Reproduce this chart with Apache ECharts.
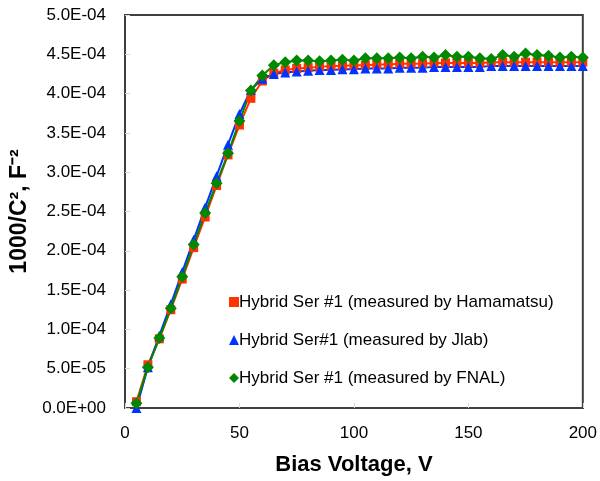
<!DOCTYPE html>
<html>
<head>
<meta charset="utf-8">
<script src="https://cdn.jsdelivr.net/npm/echarts@6/dist/echarts.min.js"></script>
<style>
html,body{margin:0;padding:0;background:#fff;}
#chart{width:600px;height:481px;}
</style>
</head>
<body>
<div id="chart"></div>
<script>
// Bias voltage (V)
const voltages = [5,10,15,20,25,30,35,40,45,50,55,60,65,70,75,80,85,90,95,100,
  105,110,115,120,125,130,135,140,145,150,155,160,165,170,175,180,185,190,195,200];
// 1000/C^2 in units of 1e-4 F^-2
const hamamatsu = [0.08,0.55,0.88,1.25,1.64,2.04,2.43,2.83,3.22,3.60,3.94,4.16,4.26,4.30,4.32,4.33,4.34,4.35,4.35,4.36,
  4.36,4.37,4.37,4.38,4.38,4.38,4.39,4.39,4.39,4.39,4.39,4.40,4.40,4.40,4.40,4.40,4.40,4.40,4.40,4.40];
const jlab = [0.00,0.52,0.92,1.32,1.73,2.14,2.55,2.95,3.35,3.74,4.05,4.19,4.25,4.27,4.28,4.29,4.30,4.30,4.31,4.31,
  4.32,4.32,4.32,4.33,4.33,4.33,4.34,4.34,4.34,4.34,4.34,4.35,4.35,4.35,4.35,4.35,4.35,4.35,4.35,4.35];
const fnal = [0.06,0.52,0.89,1.27,1.67,2.08,2.48,2.86,3.24,3.65,4.04,4.23,4.36,4.40,4.42,4.42,4.41,4.42,4.43,4.42,
  4.45,4.45,4.45,4.46,4.45,4.47,4.46,4.49,4.47,4.47,4.45,4.44,4.49,4.47,4.51,4.49,4.48,4.46,4.47,4.46];
const UNIT = 1e-4;
const seriesNames = [
  'Hybrid Ser #1 (measured by Hamamatsu)',
  'Hybrid Ser#1 (measured by Jlab)',
  'Hybrid Ser #1 (measured by FNAL)'
];

function pairs(vals){ return voltages.map((v,i)=>[v, vals[i]*UNIT]); }
function sci(v){
  if (v === 0) return '0.0E+00';
  const s = v.toExponential(1).toUpperCase();
  const m = s.match(/^(-?[\d.]+)E([+-])(\d+)$/);
  return m[1] + 'E' + m[2] + (m[3].length < 2 ? '0' + m[3] : m[3]);
}

const FONT = '"Liberation Sans", Arial, sans-serif';
const chart = echarts.init(document.getElementById('chart'), null, {renderer:'canvas'});
chart.setOption({
  animation: false,
  backgroundColor: '#fff',
  grid: {left:125, right:17, top:15, bottom:73, show:true, borderColor:'#404040', borderWidth:2, backgroundColor:'transparent'},
  legend: {
    orient:'vertical', left:224, top:287, itemGap:18, itemWidth:10, itemHeight:10,
    textStyle:{fontFamily:FONT, fontSize:17, color:'#000', lineHeight:20, padding:[0,0,0,-5]},
    data:[
      {name:seriesNames[0], icon:'rect'},
      {name:seriesNames[1], icon:'triangle'},
      {name:seriesNames[2], icon:'diamond'}
    ]
  },
  xAxis: {
    type:'value', min:0, max:200, interval:50,
    name:'Bias Voltage, V', nameLocation:'middle', nameGap:46,
    nameTextStyle:{fontFamily:FONT, fontSize:22, fontWeight:'bold', color:'#000'},
    axisLine:{show:true, lineStyle:{color:'#404040', width:2}},
    axisTick:{show:true, inside:true, length:5, lineStyle:{color:'#d9d9d9'}},
    axisLabel:{fontFamily:FONT, fontSize:17, color:'#000', margin:17},
    splitLine:{show:false}
  },
  yAxis: {
    type:'value', min:0, max:5e-4, interval:5e-5,
    name:'1000/C\u00B2, F\u207B\u00B2', nameLocation:'middle', nameGap:91,
    nameTextStyle:{fontFamily:FONT, fontSize:23, fontWeight:'bold', color:'#000'},
    axisLine:{show:true, lineStyle:{color:'#404040', width:2}},
    axisTick:{show:true, inside:true, length:5, lineStyle:{color:'#d9d9d9'}},
    axisLabel:{fontFamily:FONT, fontSize:17, color:'#000', margin:19, formatter:sci},
    splitLine:{show:false}
  },
  series: [
    {name:seriesNames[0], type:'line', data:pairs(hamamatsu), symbol:'rect', symbolSize:9,
     itemStyle:{color:'#ff3300'}, lineStyle:{color:'#ff3300', width:2}},
    {name:seriesNames[1], type:'line', data:pairs(jlab), symbol:'triangle', symbolSize:10,
     itemStyle:{color:'#0033ff'}, lineStyle:{color:'#0033ff', width:2}},
    {name:seriesNames[2], type:'line', data:pairs(fnal), symbol:'diamond', symbolSize:12,
     itemStyle:{color:'#008800'}, lineStyle:{color:'#008800', width:2}}
  ]
});
</script>
</body>
</html>
